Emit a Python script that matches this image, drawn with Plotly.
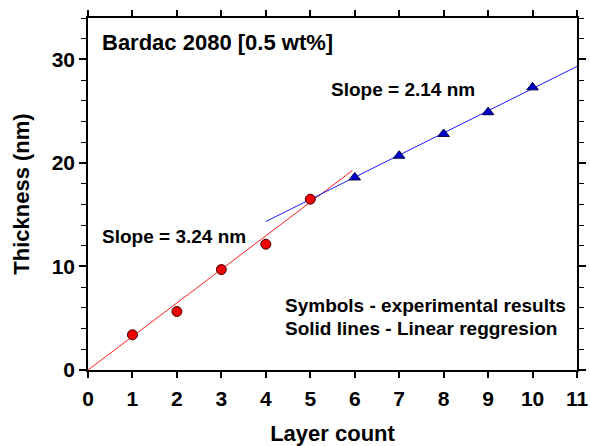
import plotly.graph_objects as go

# Data
red_x = [1, 2, 3, 4, 5]
red_y = [3.4, 5.65, 9.7, 12.15, 16.5]
blue_x = [6, 7, 8, 9, 10]
blue_y = [18.6, 20.7, 22.8, 24.9, 27.3]

red_fit_x = [0, 5.95]
red_slope = 3.24
red_fit_y = [red_slope * v for v in red_fit_x]

blue_fit_x = [4, 11]
blue_slope = 2.14
blue_icpt = 5.78
blue_fit_y = [blue_slope * v + blue_icpt for v in blue_fit_x]

x_ticks = list(range(0, 12))
y_ticks = [0, 10, 20, 30]

FONT = "Liberation Sans, Arial, sans-serif"

fig = go.Figure()
fig.add_trace(go.Scatter(x=red_fit_x, y=red_fit_y, mode="lines",
                         line=dict(color="#ff2020", width=1), showlegend=False))
fig.add_trace(go.Scatter(x=blue_fit_x, y=blue_fit_y, mode="lines",
                         line=dict(color="#1a1aff", width=1), showlegend=False))
fig.add_trace(go.Scatter(x=red_x, y=red_y, mode="markers",
                         marker=dict(symbol="circle", size=10, color="#ee0000",
                                     line=dict(color="#400000", width=1)),
                         showlegend=False))
fig.add_trace(go.Scatter(x=blue_x, y=blue_y, mode="markers",
                         marker=dict(symbol="triangle-up", size=10, color="#0000cc",
                                     line=dict(color="#000040", width=1)),
                         showlegend=False))

ann_font = dict(family=FONT, size=19, color="black")
fig.add_annotation(x=0.27, y=31.6, xref="x", yref="y", text="<b>Bardac 2080 [0.5 wt%]</b>",
                   showarrow=False, xanchor="left", yanchor="middle",
                   font=dict(family=FONT, size=22, color="black"))
fig.add_annotation(x=5.42, y=27.1, text="<b>Slope = 2.14 nm</b>", showarrow=False,
                   xanchor="left", yanchor="middle", font=ann_font)
fig.add_annotation(x=0.27, y=12.85, text="<b>Slope = 3.24 nm</b>", showarrow=False,
                   xanchor="left", yanchor="middle", font=ann_font)
fig.add_annotation(x=4.39, y=6.2, text="<b>Symbols - experimental results</b>", showarrow=False,
                   xanchor="left", yanchor="middle", font=ann_font)
fig.add_annotation(x=4.39, y=4.05, text="<b>Solid lines - Linear reggresion</b>", showarrow=False,
                   xanchor="left", yanchor="middle", font=ann_font)

fig.update_xaxes(range=[0, 11], tickvals=x_ticks, ticktext=[f"<b>{v}</b>" for v in x_ticks],
                 showgrid=False, zeroline=False, showline=True, linecolor="black", linewidth=1.5,
                 mirror="ticks", ticks="outside", ticklen=6, tickcolor="black", tickwidth=1.5,
                 ticklabelstandoff=3,
                 tickfont=dict(family=FONT, size=21, color="black"), automargin=False,
                 title=dict(text="<b>Layer count</b>", font=dict(family=FONT, size=22, color="black"),
                            standoff=17))
fig.update_yaxes(range=[0, 34], tickvals=y_ticks, ticktext=[f"<b>{v}</b>" for v in y_ticks],
                 showgrid=False, zeroline=False, showline=True, linecolor="black", linewidth=1.5,
                 mirror="ticks", ticks="outside", ticklen=7, tickcolor="black", tickwidth=1.5,
                 minor=dict(dtick=2, ticks="outside", ticklen=5, tickcolor="black", tickwidth=1,
                            showgrid=False),
                 tickfont=dict(family=FONT, size=21, color="black"), automargin=False,
                 title=dict(text="<b>Thickness (nm)</b>", font=dict(family=FONT, size=22, color="black"),
                            standoff=16))
fig.update_layout(width=590, height=446, margin=dict(l=88, r=13, t=18, b=76),
                  plot_bgcolor="white", paper_bgcolor="white")
fig.write_html("out.html")
